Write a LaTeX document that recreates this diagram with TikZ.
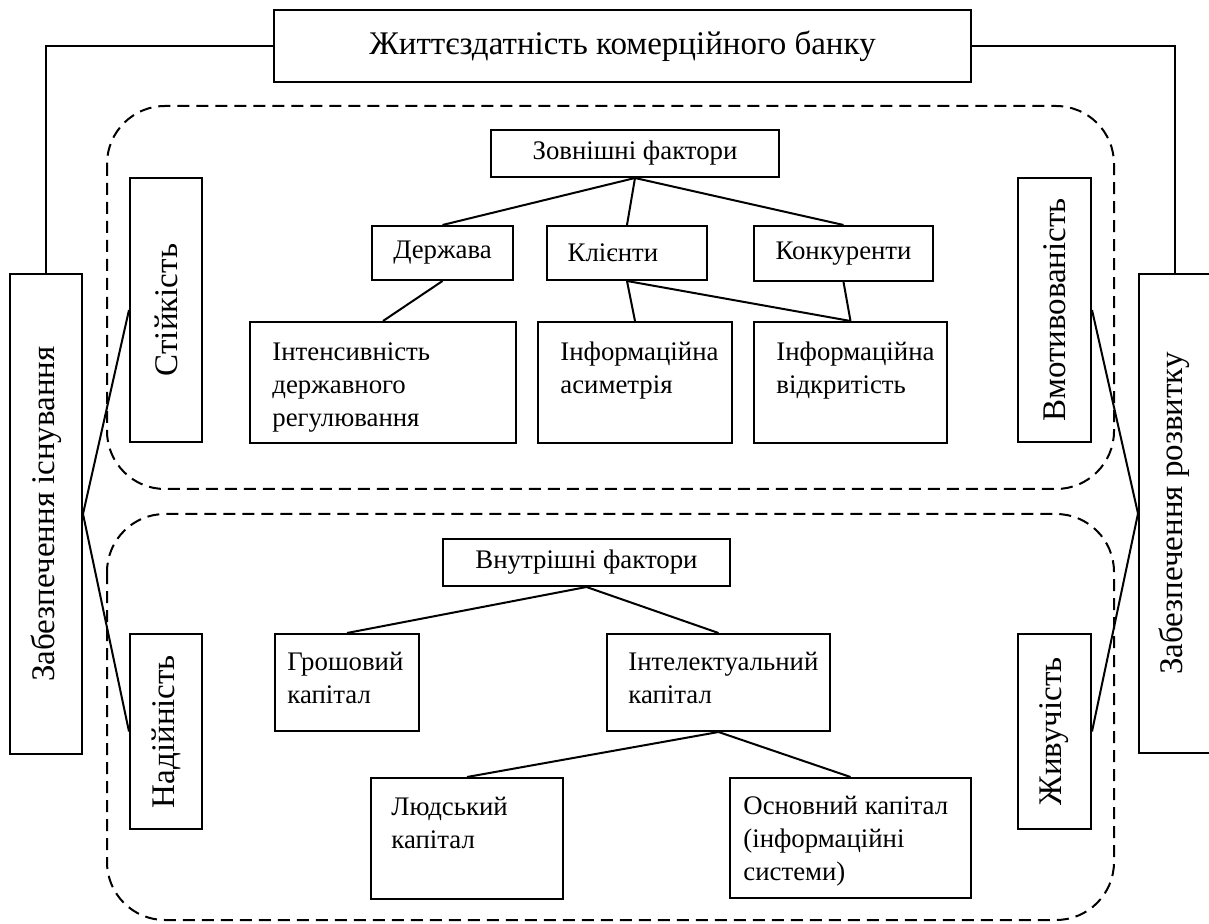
\documentclass[tikz,border=0pt]{standalone}
\usepackage{fontspec}
\setmainfont{Liberation Serif}
\usetikzlibrary{fit}
\begin{document}
\begin{tikzpicture}[x=0.5pt,y=-0.5pt,
  box/.style={draw, line width=1pt, rectangle, inner sep=0pt},
  ln/.style={line width=1pt},
  dsh/.style={line width=1pt, dash pattern=on 6pt off 3.5pt, rounded corners=29pt},
  big/.style={font=\fontsize{16.5}{19}\selectfont, inner sep=0pt},
  sm/.style={font=\fontsize{13.4}{16.5}\selectfont, inner sep=0pt},
  ml/.style={sm, align=left, anchor=north west},
]
\useasboundingbox (0,0) rectangle (1209,924);

% dashed groups
\draw[dsh] (107,106) rectangle (1114,489);
\draw[dsh] (107,514) rectangle (1114,920);

% outer boxes
\node[box, fit={(274,10) (971,82)}] (top) {};
\node[big] (toptxt) at (top.center) {Життєздатність комерційного банку};
\node[box, fit={(10,274) (82,754)}] (left) {};
\node[big, rotate=90] (lefttxt) at (left.center) {Забезпечення існування};
\node[box, fit={(1139,274) (1210,753)}] (right) {};
\node[big, rotate=90] (righttxt) at (right.center) {Забезпечення розвитку};

\node[box, fit={(130,178) (202,442)}] (st) {};
\node[big, rotate=90] (sttxt) at (st.center) {Стійкість};
\node[box, fit={(130,634) (202,829)}] (nad) {};
\node[big, rotate=90] (nadtxt) at (nad.center) {Надійність};
\node[box, fit={(1018,178) (1091,442)}] (vm) {};
\node[big, rotate=90] (vmtxt) at (vm.center) {Вмотивованість};
\node[box, fit={(1018,634) (1091,829)}] (zh) {};
\node[big, rotate=90] (zhtxt) at (zh.center) {Живучість};

% external factors
\node[box, fit={(491,130) (779,177)}] (zovn) {};
\node[sm] (zovntxt) at (zovn.center) {Зовнішні фактори};
\node[box, fit={(372,226) (513,280)}] (derzh) {};
\node[sm] (derzhtxt) at (derzh.center) {Держава};
\node[box, fit={(547,226) (707,280)}] (kl) {};
\node[sm] (kltxt) at ([xshift=-7pt]kl.center) {Клієнти};
\node[box, fit={(754,226) (933,281)}] (kon) {};
\node[sm] (kontxt) at (kon.center) {Конкуренти};
\node[box, fit={(250,322) (516,443)}] (int) {};
\node[ml] (inttxt) at (272,342) {Інтенсивність\\державного\\регулювання};
\node[box, fit={(538,322) (732,443)}] (asym) {};
\node[ml] (asymtxt) at (560,342) {Інформаційна\\асиметрія};
\node[box, fit={(754,322) (947,443)}] (vidk) {};
\node[ml] (vidktxt) at (776,342) {Інформаційна\\відкритість};

% internal factors
\node[box, fit={(443,539) (730,586)}] (vnut) {};
\node[sm] (vnuttxt) at (vnut.center) {Внутрішні фактори};
\node[box, fit={(275,634) (419,731)}] (grosh) {};
\node[ml] (groshtxt) at (287,652) {Грошовий\\капітал};
\node[box, fit={(607,634) (830,731)}] (intel) {};
\node[ml] (inteltxt) at (628,652) {Інтелектуальний\\капітал};
\node[box, fit={(371,778) (563,899)}] (lud) {};
\node[ml] (ludtxt) at (391,797) {Людський\\капітал};
\node[box, fit={(730,778) (971,898)}] (osn) {};
\node[ml] (osntxt) at (743,796) {Основний капітал\\(інформаційні\\системи)};

% connectors
\draw[ln] (top.west) -| (left.north);
\draw[ln] (top.east) -| (right.north);
\draw[ln] (st.west) -- (left.east) -- (nad.west);
\draw[ln] (vm.east) -- (right.west) -- (zh.east);
\draw[ln] (zovn.south) -- (derzh.north);
\draw[ln] (zovn.south) -- (kl.north);
\draw[ln] (zovn.south) -- (kon.north);
\draw[ln] (derzh.south) -- (int.north);
\draw[ln] (kl.south) -- (asym.north);
\draw[ln] (kl.south) -- (vidk.north);
\draw[ln] (kon.south) -- (vidk.north);
\draw[ln] (vnut.south) -- (grosh.north);
\draw[ln] (vnut.south) -- (intel.north);
\draw[ln] (intel.south) -- (lud.north);
\draw[ln] (intel.south) -- (osn.north);
\end{tikzpicture}
\end{document}
